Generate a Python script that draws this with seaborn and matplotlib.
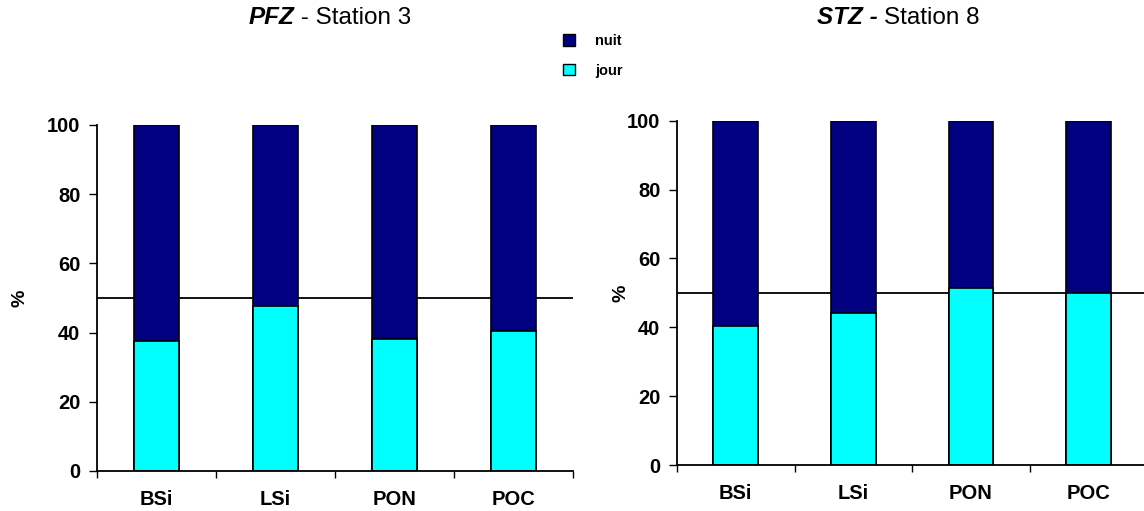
import numpy as np
import pandas as pd
import seaborn as sns
import matplotlib.pyplot as plt
from matplotlib.ticker import FixedLocator
from matplotlib.patches import Patch

# Données (% jour ; nuit = complément à 100)
categories = ["BSi", "LSi", "PON", "POC"]
jour_pfz = [37.5, 47.8, 38.2, 40.5]
jour_stz = [40.5, 44.1, 51.5, 49.9]
total = [100, 100, 100, 100]
y_ticks = [0, 20, 40, 60, 80, 100]

sns.set_theme(style="white")
plt.rcParams["font.family"] = ["Liberation Sans", "DejaVu Sans"]
plt.rcParams["text.color"] = "black"
plt.rcParams["axes.labelcolor"] = "black"
plt.rcParams["xtick.color"] = "black"
plt.rcParams["ytick.color"] = "black"

col_nuit = "#000080"
col_jour = "#00FFFF"

fig = plt.figure(figsize=(11.44, 5.11), dpi=100)
ax1 = fig.add_axes([0.0848, 0.0783, 0.4161, 0.6771])
ax2 = fig.add_axes([0.5918, 0.0900, 0.4110, 0.6738])


def panel(ax, jour, lpad):
    df = pd.DataFrame({"cat": categories, "jour": jour, "total": total})
    sns.barplot(data=df, x="cat", y="total", color=col_nuit, width=0.38,
                edgecolor="black", linewidth=1.2, saturation=1, ax=ax)
    sns.barplot(data=df, x="cat", y="jour", color=col_jour, width=0.38,
                edgecolor="black", linewidth=1.2, saturation=1, ax=ax)
    ax.axhline(50, color="black", linewidth=1.3, zorder=0.5)
    ax.set_xlim(-0.5, 3.5)
    ax.set_ylim(0, 100)
    ax.set_yticks(y_ticks)
    ax.xaxis.set_minor_locator(FixedLocator(np.arange(-0.5, 4, 1)))
    ax.tick_params(axis="x", which="major", length=0, pad=14)
    ax.tick_params(axis="x", which="minor", length=5, width=1, direction="out",
                   color="black", bottom=True)
    ax.tick_params(axis="y", length=6, width=1, direction="out", color="black",
                   left=True, pad=6)
    for lab in ax.get_xticklabels() + ax.get_yticklabels():
        lab.set_fontweight("bold")
        lab.set_fontsize(14.5)
    ax.set_xlabel("")
    ax.set_ylabel("%", fontsize=14, fontweight="bold", labelpad=lpad)
    for s in ["top", "right"]:
        ax.spines[s].set_visible(False)
    for s in ["left", "bottom"]:
        ax.spines[s].set_color("black")
        ax.spines[s].set_linewidth(1.3)


panel(ax1, jour_pfz, 13)
panel(ax2, jour_stz, -2)

# Titres
fig.text(0.257, 0.965, "PFZ", fontsize=17.5, fontweight="bold", style="italic",
         ha="right", va="center")
fig.text(0.257, 0.965, " - Station 3", fontsize=17.5, ha="left", va="center")
fig.text(0.773, 0.965, "STZ - ", fontsize=17.5, fontweight="bold", style="italic",
         ha="right", va="center")
fig.text(0.773, 0.965, "Station 8", fontsize=17.5, ha="left", va="center")

# Légende
handles = [Patch(facecolor=col_nuit, edgecolor="black", label="nuit"),
           Patch(facecolor=col_jour, edgecolor="black", label="jour")]
fig.legend(handles=handles, loc="upper left", bbox_to_anchor=(0.492, 0.933),
           frameon=False, prop={"weight": "bold", "size": 10.5},
           handlelength=0.85, handleheight=0.85, handletextpad=1.35,
           labelspacing=1.05, borderpad=0, borderaxespad=0)

fig.savefig("out.png", dpi=100)
